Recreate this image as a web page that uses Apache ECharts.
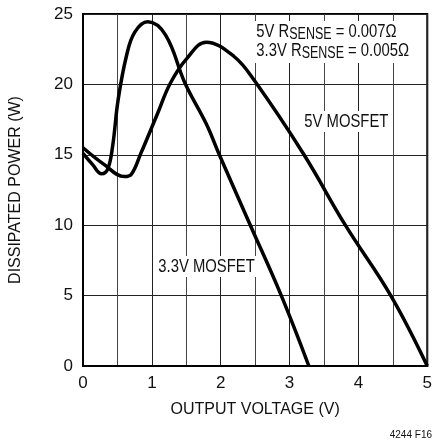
<!DOCTYPE html>
<html>
<head>
<meta charset="utf-8">
<script src="https://cdn.jsdelivr.net/npm/echarts@6/dist/echarts.min.js"></script>
<style>
html, body { margin: 0; padding: 0; background: #fff; }
#chartDiv { width: 435px; height: 448px; }
</style>
</head>
<body>
<div id="chartDiv"></div>
<script>
// 初始化图表
let myChart = echarts.init(document.getElementById('chartDiv'));
window.onresize = myChart.resize;

let FONT = '"Liberation Sans", Arial, sans-serif';

// 数据集 (output voltage V, dissipated power W)
let x33 = [0, 0.14, 0.27, 0.36, 0.43, 0.51, 0.63, 0.75, 0.94, 1.2, 1.48, 1.79, 1.98, 2.43, 2.88, 3.28];
let y33 = [15.1, 14.3, 13.65, 14.0, 15.6, 18.9, 22.0, 23.7, 24.45, 23.5, 20.1, 17.2, 15.0, 10, 5, 0];

let x5 = [0, 0.31, 0.6, 0.7, 0.84, 1.08, 1.27, 1.51, 1.79, 2.19, 2.5, 3.21, 3.81, 4.47, 5.0];
let y5 = [15.5, 14.3, 13.45, 13.6, 15.1, 17.9, 20.1, 21.85, 23.0, 22.0, 20.2, 15, 10, 5, 0];

let xTicks = [0, 5, 1];
let yTicks = [0, 25, 5];

function pairs(xs, ys) {
    let out = [];
    for (let i = 0; i < xs.length; i++) out.push([xs[i], ys[i]]);
    return out;
}

let lineOption = {
    type: 'line',
    smooth: 0.4,
    symbol: 'none',
    lineStyle: { color: '#000', width: 3.5 },
    silent: true
};

// narrow-looking labels: regular font squeezed horizontally
function label(txt, x, y) {
    return {
        type: 'text', x: x, y: y, scaleX: 0.78, z: 100,
        style: {
            text: txt,
            fill: '#111',
            font: '19px ' + FONT,
            backgroundColor: '#fff',
            padding: [1, 3, 1, 3]
        }
    };
}

// 图表设置
let option = {
    backgroundColor: '#fff',
    animation: false,
    grid: {
        left: 81, right: 3, top: 14, bottom: 82,
        show: true,
        borderColor: '#000',
        borderWidth: 2
    },
    xAxis: {
        type: 'value',
        min: xTicks[0], max: xTicks[1], interval: xTicks[2],
        name: 'OUTPUT VOLTAGE (V)',
        nameLocation: 'middle',
        nameGap: 36,
        nameTextStyle: { color: '#111', fontSize: 16, fontFamily: FONT },
        axisLine: { lineStyle: { color: '#000', width: 2 } },
        axisTick: { show: false },
        axisLabel: { color: '#111', fontSize: 17, fontFamily: FONT, margin: 9 },
        splitLine: { lineStyle: { color: '#222', width: 1 } },
        minorTick: { show: false, splitNumber: 2 },
        minorSplitLine: { show: true, lineStyle: { color: '#444', width: 1 } }
    },
    yAxis: {
        type: 'value',
        min: yTicks[0], max: yTicks[1], interval: yTicks[2],
        name: 'DISSIPATED POWER (W)',
        nameLocation: 'middle',
        nameGap: 59,
        nameTextStyle: { color: '#111', fontSize: 16, fontFamily: FONT },
        axisLine: { lineStyle: { color: '#000', width: 2 } },
        axisTick: { show: false },
        axisLabel: { color: '#111', fontSize: 17, fontFamily: FONT, margin: 10 },
        splitLine: { lineStyle: { color: '#222', width: 1 } }
    },
    series: [
        Object.assign({}, lineOption, { name: '3.3V MOSFET', data: pairs(x33, y33) }),
        Object.assign({}, lineOption, { name: '5V MOSFET', data: pairs(x5, y5) })
    ],
    graphic: [
        {
            type: 'text', x: 254, y: 21, scaleX: 0.78, z: 100,
            style: {
                text: '5V R{s|SENSE} = 0.007Ω\n3.3V R{s|SENSE} = 0.005Ω',
                fill: '#111',
                font: '19px ' + FONT,
                lineHeight: 19,
                backgroundColor: '#fff',
                padding: [1, 4, 3, 3],
                rich: {
                    s: { fontSize: 16, fontFamily: FONT, fill: '#111', padding: [7, 0, 0, 0], lineHeight: 19 }
                }
            }
        },
        label('5V MOSFET', 302, 111),
        label('3.3V MOSFET', 156, 256),
        {
            type: 'text', right: 3, top: 430, z: 100,
            style: { text: '4244 F16', fill: '#111', font: '10px ' + FONT }
        }
    ]
};
myChart.setOption(option);
</script>
</body>
</html>
